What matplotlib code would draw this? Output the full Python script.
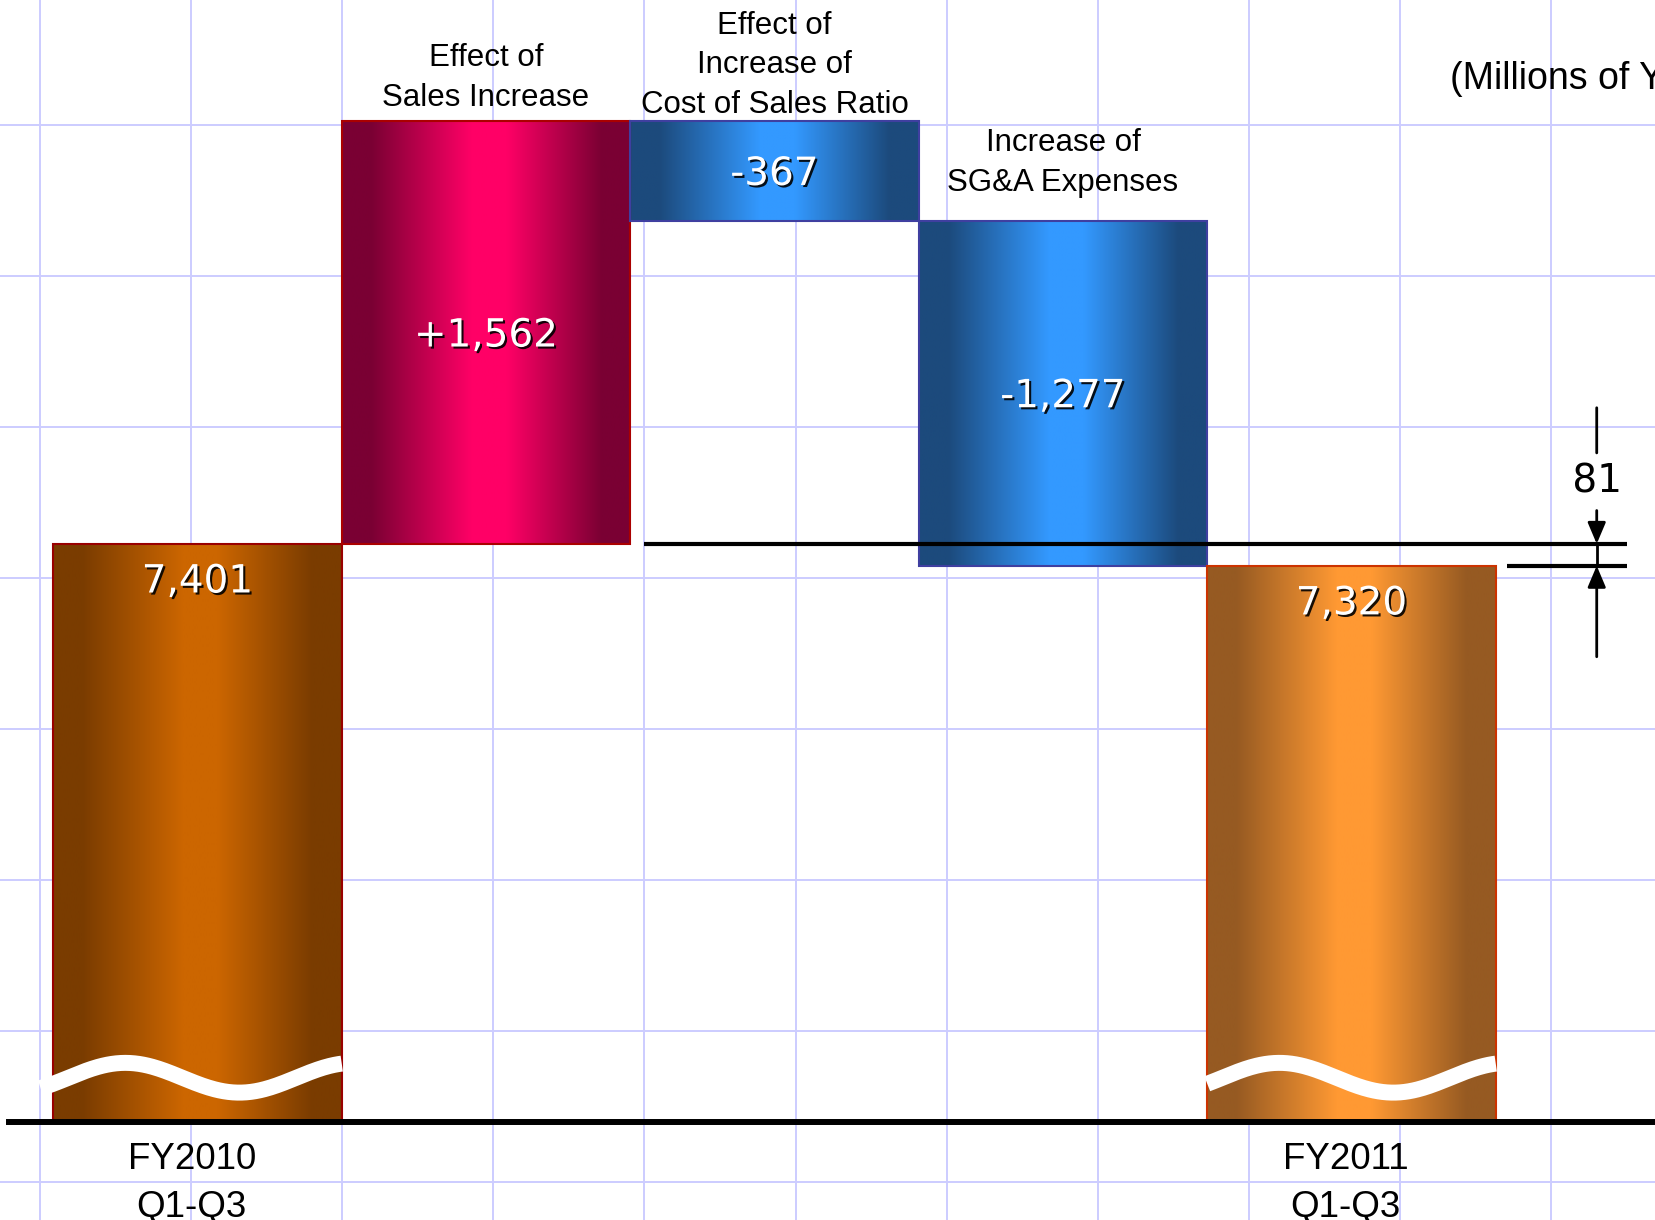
import numpy as np
import matplotlib
matplotlib.use('Agg')
import matplotlib.pyplot as plt
import matplotlib.patheffects as pe
from matplotlib.colors import LinearSegmentedColormap
from matplotlib.transforms import offset_copy

# ---- data ----
steps = ['FY2010\nQ1-Q3', 'Effect of\nSales Increase',
         'Effect of\nIncrease of\nCost of Sales Ratio',
         'Increase of\nSG&A Expenses', 'FY2011\nQ1-Q3']
start_value = 7401
changes = [1562, -367, -1277]
end_value = 7320
value_labels = ['7,401', '+1,562', '-367', '-1,277', '7,320']
diff_label = '81'
unit_label = '(Millions of Yen)'

# ---- style ----
grad_colors = [('#7a3c00', '#cc6600'), ('#7a0033', '#ff0066'),
               ('#1c4a7c', '#3399ff'), ('#1c4a7c', '#3399ff'),
               ('#965a22', '#ff9933')]
edge_colors = ['#990000', '#aa0000', '#3f3fa0', '#3f3fa0', '#cc3300']
axis_floor = 5265          # broken axis: bars start here
top_label_pad = [0, 6, 1, 16.5, 0]   # pt above bar top

W, H = 1656, 1220
fig = plt.figure(figsize=(W / 100, H / 100), dpi=100)

# background grid (decorative squared paper)
bg = fig.add_axes([0, 0, 1, 1], zorder=0)
bg.set_xlim(0, W)
bg.set_ylim(H, 0)
bg.axis('off')
for gx in 40.1 + 151.1 * np.arange(11):
    bg.axvline(gx, color='#ccccff', lw=1.4)
for gy in 124.6 + 151.0 * np.arange(8):
    bg.axhline(gy, color='#ccccff', lw=1.4)

ax = fig.add_axes([0, 0, 1, 1], zorder=1)
ax.patch.set_visible(False)

# waterfall geometry
bottoms, tops = [axis_floor], [start_value]
level = start_value
for c in changes:
    bottoms.append(min(level, level + c))
    tops.append(max(level, level + c))
    level += c
bottoms.append(axis_floor)
tops.append(end_value)
x = np.arange(len(steps))
heights = np.array(tops) - np.array(bottoms)

bars = ax.bar(x, heights, bottom=bottoms, width=1.0, facecolor='none',
              edgecolor=edge_colors, linewidth=1.5, zorder=3)

grad = np.linspace(0, 1, 256).reshape(1, -1)
for rect, (edge, center) in zip(bars, grad_colors):
    cmap = LinearSegmentedColormap.from_list(
        'g', [(0, edge), (0.1, edge), (0.45, center), (0.57, center),
              (0.9, edge), (1, edge)])
    x0, y0 = rect.get_x(), rect.get_y()
    im = ax.imshow(grad, extent=(x0, x0 + rect.get_width(), y0, y0 + rect.get_height()),
                   cmap=cmap, aspect='auto', interpolation='bilinear', zorder=2)
    im.set_clip_path(rect)

# wavy break on the total bars
for i, ext in [(0, 0.044), (4, 0.0)]:
    u = np.linspace(-ext, 1.0, 200)
    wy = 5427 + 55 * np.cos(2 * np.pi * (u - 0.25) / 0.79)
    ax.plot(x[i] - 0.5 + u, wy, color='white', lw=11.5, solid_capstyle='butt', zorder=4)

# baseline
ax.axhline(axis_floor, xmin=9 / W, xmax=1, color='black', lw=4.3, zorder=5)

shadow = [pe.SimplePatchShadow(offset=(1.5, -1.5), shadow_rgbFace='black', alpha=0.9),
          pe.Normal()]
lab_font = ['Liberation Sans', 'DejaVu Sans']

for i in range(len(steps)):
    if i in (0, len(steps) - 1):
        ax.annotate(value_labels[i], xy=(x[i], tops[i]), xytext=(0, -35),
                    textcoords='offset points', ha='center', va='baseline',
                    fontsize=28, color='white', path_effects=shadow, zorder=6)
        ax.annotate(steps[i], xy=(x[i] - 0.02, axis_floor), xytext=(0, -15),
                    textcoords='offset points', ha='center', va='top',
                    fontsize=26.5, family=lab_font, linespacing=1.45,
                    multialignment='center', zorder=6)
    else:
        mid = (tops[i] + bottoms[i]) / 2
        ax.annotate(value_labels[i], xy=(x[i], mid), xytext=(0, -10),
                    textcoords='offset points', ha='center', va='baseline',
                    fontsize=28, color='white', path_effects=shadow, zorder=6)
        ax.annotate(steps[i], xy=(x[i], tops[i]), xytext=(0, top_label_pad[i]),
                    textcoords='offset points', ha='center', va='bottom',
                    fontsize=22.5, family=lab_font, linespacing=1.42,
                    multialignment='center', zorder=6)

# difference marker between the two totals
ax.hlines(start_value, 1.548, 4.955, color='black', lw=3, zorder=5)
ax.hlines(end_value, 4.539, 4.955, color='black', lw=3, zorder=5)
mx = 4.85
up = lambda pt: offset_copy(ax.transData, fig=fig, y=pt, units='points')
ax.annotate('', xy=(mx, start_value), xytext=(mx, start_value),
            xycoords=up(98), textcoords=up(65.5),
            arrowprops=dict(arrowstyle='-', color='black', lw=2, shrinkA=0, shrinkB=0))
ax.annotate('', xy=(mx, start_value), xytext=(mx, start_value), textcoords=up(24),
            arrowprops=dict(arrowstyle='-|>,head_length=1.3,head_width=0.55',
                            color='black', lw=2, shrinkA=0, shrinkB=0, mutation_scale=10))
ax.plot([mx, mx], [end_value, start_value], color='black', lw=2, zorder=5)
ax.annotate('', xy=(mx, end_value), xytext=(mx, end_value), textcoords=up(-65.5),
            arrowprops=dict(arrowstyle='-|>,head_length=1.3,head_width=0.55',
                            color='black', lw=2, shrinkA=0, shrinkB=0, mutation_scale=10))
ax.annotate(' ' + diff_label + ' ', xy=(mx, start_value), xytext=(0, 44.6),
            textcoords='offset points', ha='center', va='center', fontsize=28,
            bbox=dict(boxstyle='square,pad=0.15', fc='white', ec='none'), zorder=6)

fig.text(1450 / W, 1 - 89 / H, unit_label, ha='left', va='baseline',
         fontsize=27, family=lab_font)

ax.set_xlim(-197.5 / 288.5, (W - 197.5) / 288.5)
ax.set_ylim(4901, 9412)
ax.axis('off')

fig.savefig('out.png', dpi=100)
